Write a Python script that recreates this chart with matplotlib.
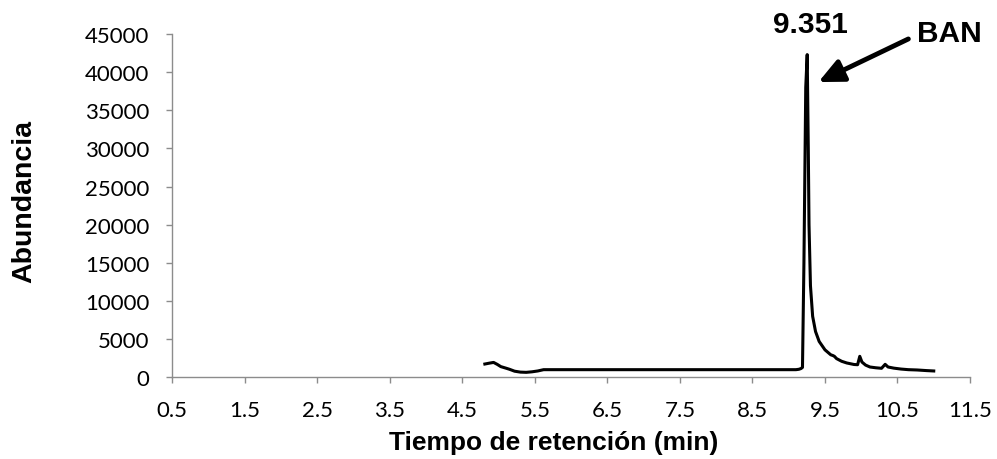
import numpy as np
import matplotlib
matplotlib.use('Agg')
import matplotlib.pyplot as plt

# datos del cromatograma
tiempo = [4.81, 4.87, 4.93, 4.98, 5.03, 5.10, 5.15, 5.22, 5.30, 5.38, 5.46, 5.54, 5.62,
          7.00, 9.10, 9.14, 9.17, 9.19, 9.21, 9.235, 9.255, 9.27, 9.28, 9.30, 9.33,
          9.37, 9.42, 9.50, 9.58, 9.61, 9.63, 9.66, 9.73, 9.80, 9.90, 9.95, 9.98,
          10.01, 10.06, 10.12, 10.20, 10.28, 10.33, 10.37, 10.45, 10.55, 10.65,
          10.77, 10.90, 11.00]
abundancia = [1740, 1850, 1950, 1700, 1400, 1200, 1050, 800, 680, 650, 720, 830, 1000,
              1000, 1000, 1050, 1150, 1300, 15000, 38000, 42300, 30000, 20000, 12000, 8000,
              6000, 4700, 3600, 2950, 2850, 2750, 2450, 2100, 1880, 1680, 1650, 2750,
              2000, 1600, 1350, 1250, 1180, 1700, 1350, 1200, 1080, 1000,
              960, 880, 830]

xticks = [0.5, 1.5, 2.5, 3.5, 4.5, 5.5, 6.5, 7.5, 8.5, 9.5, 10.5, 11.5]
yticks = [0, 5000, 10000, 15000, 20000, 25000, 30000, 35000, 40000, 45000]

pico_x, pico_y = 9.30, 46300
etiqueta_pico = '9.351'
ban_x, ban_y = 11.21, 45100
flecha_inicio = (10.65, 44350)
flecha_fin = (9.41, 38700)

gris = '#8c8c8c'

fig = plt.figure(figsize=(9.97, 4.60), dpi=100)
ax = fig.add_axes([172.3 / 997, 1 - 378.3 / 460, (970 - 172.3) / 997, (378.3 - 35) / 460])

ax.plot(tiempo, abundancia, color='black', linewidth=2.2, solid_joinstyle='round')

ax.set_xlim(0.5, 11.5)
ax.set_ylim(0, 45000)
ax.set_xticks(xticks)
ax.set_yticks(yticks)
ax.set_xticklabels([f'{t:.1f}' for t in xticks], family='Lato', fontsize=16)
ax.set_yticklabels([str(v) for v in yticks], family='Lato', fontsize=16)

for s in ['top', 'right']:
    ax.spines[s].set_visible(False)
for s in ['left', 'bottom']:
    ax.spines[s].set_color(gris)
    ax.spines[s].set_linewidth(1.0)
ax.tick_params(axis='both', colors=gris, labelcolor='black', length=4.5, width=1.0,
               direction='out', pad=12)

ax.set_xlabel('Tiempo de retención (min)', family='Liberation Sans', fontsize=19,
              fontweight='bold', va='center')
ax.xaxis.set_label_coords(0.478, -0.188)
ax.set_ylabel('Abundancia', family='Liberation Sans', fontsize=20.5,
              fontweight='bold', va='center')
ax.yaxis.set_label_coords(-0.186, 0.515)

ax.text(pico_x, pico_y, etiqueta_pico, family='Liberation Sans', fontsize=21.5,
        fontweight='bold', ha='center', va='center', clip_on=False)
ax.text(ban_x, ban_y, 'BAN', family='Liberation Sans', fontsize=21.5,
        fontweight='bold', ha='center', va='center', clip_on=False)
ax.annotate('', xy=flecha_fin, xytext=flecha_inicio,
            arrowprops=dict(arrowstyle='-|>,head_length=1.5,head_width=0.7',
                            lw=3.5, color='black', shrinkA=0, shrinkB=0),
            annotation_clip=False)

plt.savefig('out.png', dpi=100)
